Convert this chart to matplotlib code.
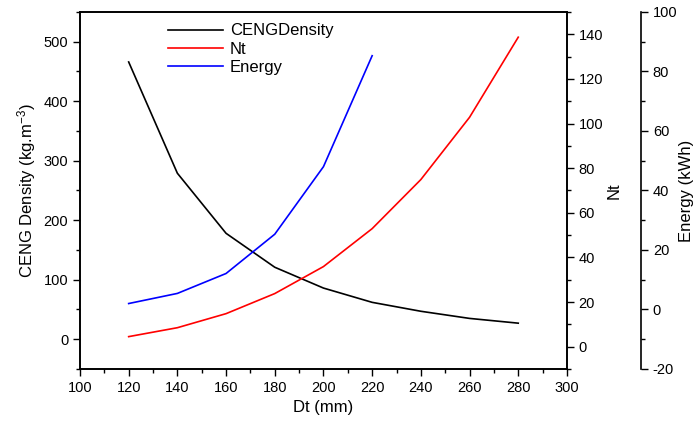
import matplotlib
matplotlib.use("Agg")
import matplotlib.pyplot as plt
from matplotlib.ticker import MultipleLocator

plt.rcParams['font.family'] = ['Liberation Sans', 'DejaVu Sans']
plt.rcParams['axes.unicode_minus'] = False
plt.rcParams['mathtext.fontset'] = 'custom'
plt.rcParams['mathtext.rm'] = 'Liberation Sans'
plt.rcParams['mathtext.it'] = 'Liberation Sans'
plt.rcParams['mathtext.default'] = 'regular'

dt = [120, 140, 160, 180, 200, 220, 240, 260, 280]
density = [466, 279, 178, 121, 86, 62, 47, 35, 27]
nt = [4.5, 8.5, 14.8, 23.8, 35.9, 52.9, 74.9, 102.8, 138.7]
dt_energy = [120, 140, 160, 180, 200, 220]
energy = [2.0, 5.4, 12.1, 25.3, 48.0, 85.3]

fig = plt.figure(figsize=(6.93, 4.25), dpi=100)
ax = fig.add_axes([0.1154, 0.1318, 0.7027, 0.84])
ax2 = ax.twinx()
ax3 = ax.twinx()
ax3.spines['right'].set_position(('axes', 1.152))

l1, = ax.plot(dt, density, color='black', lw=1.2, label='CENGDensity')
l2, = ax2.plot(dt, nt, color='red', lw=1.2, label='Nt')
l3, = ax3.plot(dt_energy, energy, color='blue', lw=1.2, label='Energy')

ax.set_xlim(100, 300)
ax.set_ylim(-50, 550)
ax2.set_ylim(-10, 150)
ax3.set_ylim(-20, 100)

ax.xaxis.set_major_locator(MultipleLocator(20))
ax.xaxis.set_minor_locator(MultipleLocator(10))
ax.yaxis.set_major_locator(MultipleLocator(100))
ax.yaxis.set_minor_locator(MultipleLocator(50))
ax2.yaxis.set_major_locator(MultipleLocator(20))
ax2.yaxis.set_minor_locator(MultipleLocator(10))
ax3.yaxis.set_major_locator(MultipleLocator(20))
ax3.yaxis.set_minor_locator(MultipleLocator(10))

for a in (ax, ax2, ax3):
    a.tick_params(which='major', direction='out', length=5, width=1, labelsize=10.5)
    a.tick_params(which='minor', direction='out', length=3, width=1)
    for s in a.spines.values():
        s.set_linewidth(1.2)

ax3.spines['top'].set_visible(False)
ax3.spines['left'].set_visible(False)
ax3.spines['bottom'].set_visible(False)
ax.tick_params(axis='x', top=False)

ax.set_xlabel('Dt (mm)', fontsize=12)
ax.set_ylabel('CENG Density (kg.m$^{-3}$)', fontsize=12)
ax2.set_ylabel('Nt', fontsize=12, labelpad=2)
ax3.set_ylabel('Energy (kWh)', fontsize=12, labelpad=1)

ax.legend(handles=[l1, l2, l3], loc='upper left', bbox_to_anchor=(0.15, 1.01),
          frameon=False, fontsize=12, handlelength=3.3, handletextpad=0.4,
          labelspacing=0.2)

fig.savefig('out.png', dpi=100)
